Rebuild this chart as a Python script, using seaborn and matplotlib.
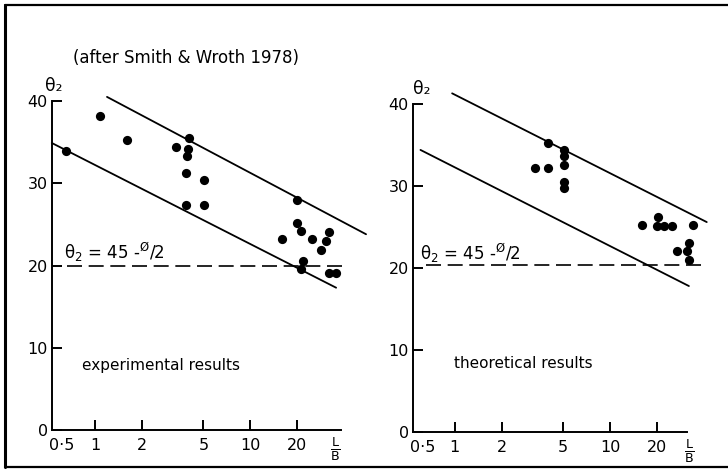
import matplotlib
matplotlib.use("Agg")
import matplotlib.pyplot as plt
from matplotlib.lines import Line2D
import numpy as np
import pandas as pd
import seaborn as sns

# ---- data -------------------------------------------------------------
# experimental results: L/B and theta_2 (degrees)
exp_lb = [0.65, 1.08, 1.60, 3.32, 4.04, 3.96, 3.94, 3.88, 5.07, 3.88, 5.07,
          20.2, 20.2, 21.4, 16.1, 25.1, 32.2, 31.1, 28.8, 21.9, 21.4, 32.3, 35.9]
exp_theta = [33.9, 38.2, 35.2, 34.4, 35.5, 34.2, 33.3, 31.2, 30.4, 27.3, 27.3,
             28.0, 25.2, 24.2, 23.2, 23.2, 24.1, 23.0, 21.9, 20.6, 19.6, 19.1, 19.1]

# theoretical results
theo_lb = [3.30, 3.98, 3.96, 5.07, 5.07, 5.07, 5.07, 5.07,
           16.0, 20.5, 20.0, 22.3, 25.0, 34.5, 27.0, 31.3, 32.3, 32.3]
theo_theta = [32.2, 32.2, 35.3, 34.4, 33.6, 32.6, 30.5, 29.7,
              25.3, 26.2, 25.1, 25.1, 25.1, 25.2, 22.1, 22.1, 23.1, 21.0]

# bounding lines (end points, L/B and theta_2)
exp_upper_lb, exp_upper_theta = [1.195, 56.0], [40.5, 23.8]
exp_lower_lb, exp_lower_theta = [0.526, 35.9], [34.9, 17.3]
theo_upper_lb, theo_upper_theta = [0.96, 42.1], [41.3, 25.6]
theo_lower_lb, theo_lower_theta = [0.60, 32.3], [34.4, 17.8]

# theta_2 = 45 - phi/2 reference level
exp_ref_lb, exp_ref_theta = [0.656, 42.9], [20.0, 20.0]
theo_ref_lb, theo_ref_theta = [0.647, 41.4], [20.4, 20.4]

x_ticks = [1, 2, 5, 10, 20]
x_tick_labels = ["1", "2", "5", "10", "20"]
y_ticks = [0, 10, 20, 30, 40]
y_tick_labels = ["0", "10", "20", "30", "40"]

# ---- style ------------------------------------------------------------
sns.set_style("ticks")
plt.rcParams["font.family"] = ["DejaVu Sans"]
plt.rcParams["mathtext.default"] = "regular"
plt.rcParams["text.color"] = "black"
plt.rcParams["axes.labelcolor"] = "black"

fig = plt.figure(figsize=(7.28, 4.75), dpi=100)
fig.patch.set_facecolor("white")

ax_exp = fig.add_axes([52 / 728, 1 - 430 / 475, 289 / 728, 329 / 475])
ax_theo = fig.add_axes([413 / 728, 1 - 432 / 475, 274 / 728, 328 / 475])

panels = [
    (ax_exp, exp_lb, exp_theta,
     (exp_upper_lb, exp_upper_theta), (exp_lower_lb, exp_lower_theta),
     (exp_ref_lb, exp_ref_theta), (0.528, 38.6),
     "experimental results", (0.82, 7.35), (0.63, 20.8), 2, 0.979),
    (ax_theo, theo_lb, theo_theta,
     (theo_upper_lb, theo_upper_theta), (theo_lower_lb, theo_lower_theta),
     (theo_ref_lb, theo_ref_theta), (0.537, 31.4),
     "theoretical results", (0.99, 7.8), (0.60, 21.0), 9, 1.007),
]

for (ax, lb, theta, upper, lower, ref, xlim, caption, cap_xy, eq_xy,
     theta_dx, lb_x) in panels:
    ax.set_xscale("log")
    ax.set_facecolor("white")

    pts = pd.DataFrame({"lb": lb, "theta": theta})
    sns.scatterplot(data=pts, x="lb", y="theta", ax=ax, color="black",
                    s=44, linewidth=0, zorder=5)

    for (lx, ly) in (upper, lower):
        sns.lineplot(x=lx, y=ly, ax=ax, color="black", linewidth=1.3,
                     sort=False, estimator=None)
    sns.lineplot(x=ref[0], y=ref[1], ax=ax, color="black",
                 linewidth=1.2, sort=False, estimator=None)
    ax.lines[-1].set_dashes((9, 4))

    for art in list(ax.lines) + list(ax.collections):
        art.set_clip_on(False)

    ax.set_xlabel("")
    ax.set_ylabel("")
    sns.despine(ax=ax)
    for side in ("left", "bottom"):
        ax.spines[side].set_linewidth(1.4)
        ax.spines[side].set_color("black")

    ax.set_xlim(*xlim)
    ax.set_ylim(0, 40)
    ax.set_xticks(x_ticks)
    ax.set_xticklabels(x_tick_labels)
    ax.xaxis.set_minor_locator(matplotlib.ticker.NullLocator())
    ax.set_yticks(y_ticks)
    ax.set_yticklabels(y_tick_labels)
    ax.tick_params(axis="both", which="major", direction="in", length=7,
                   width=1.4, color="black", labelsize=11.5,
                   labelcolor="black")
    ax.tick_params(axis="x", pad=6)
    ax.tick_params(axis="y", pad=3)

    # 0.5 label at the start of the L/B axis
    ax.annotate("0·5", xy=(0, 0), xycoords="axes fraction",
                xytext=(-2, -6), textcoords="offset points",
                ha="left", va="top", fontsize=11.5)
    # L/B axis name at the end of the axis
    ax.annotate(r"$\frac{L}{B}$", xy=(lb_x, 0), xycoords="axes fraction",
                xytext=(0, -14), textcoords="offset points",
                ha="center", va="center", fontsize=13)
    # theta_2 axis name above the axis
    ax.annotate("θ₂", xy=(0, 1), xycoords="axes fraction",
                xytext=(theta_dx * 0.72, 4), textcoords="offset points",
                ha="center", va="bottom", fontsize=12.5)

    ax.text(eq_xy[0], eq_xy[1], r"θ$_2$ = 45 -$^{\O}$/2", fontsize=12,
            ha="left", va="baseline")
    ax.text(cap_xy[0], cap_xy[1], caption, fontsize=11, ha="left",
            va="baseline")

fig.text(73 / 728, 1 - 58 / 475, "(after Smith & Wroth 1978)", fontsize=12,
         ha="left", va="center")

# frame lines around the figure
fig.add_artist(Line2D([5 / 728, 1.0], [1 - 4.5 / 475, 1 - 4.5 / 475],
                      transform=fig.transFigure, color="black", lw=1.6))
fig.add_artist(Line2D([5 / 728, 5 / 728], [1 - 4.5 / 475, 1 - 467 / 475],
                      transform=fig.transFigure, color="black", lw=2.2))
fig.add_artist(Line2D([5 / 728, 1.0], [1 - 467 / 475, 1 - 467 / 475],
                      transform=fig.transFigure, color="black", lw=1.6))

fig.savefig("out.png", dpi=100, facecolor="white")
